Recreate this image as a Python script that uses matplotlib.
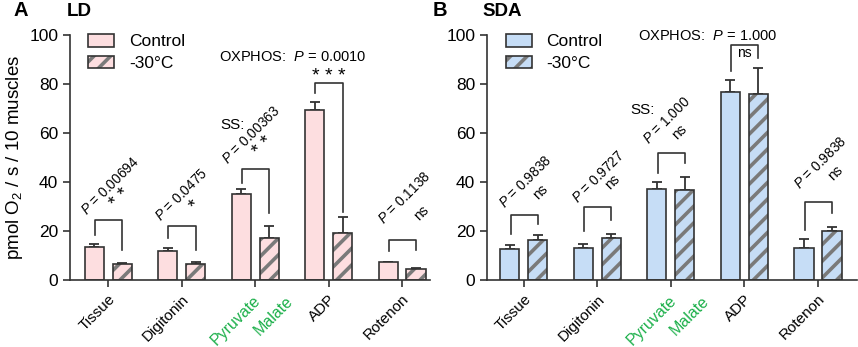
import numpy as np
import matplotlib
matplotlib.use('Agg')
import matplotlib.pyplot as plt
from matplotlib.patches import Patch
from matplotlib import transforms

plt.rcParams['font.family'] = ['Liberation Sans', 'DejaVu Sans']
plt.rcParams['mathtext.fontset'] = 'custom'
plt.rcParams['mathtext.rm'] = 'Liberation Sans'
plt.rcParams['mathtext.it'] = 'Liberation Sans:italic'
plt.rcParams['hatch.linewidth'] = 2.6

categories = ['Tissue', 'Digitonin', 'Pyruvate Malate', 'ADP', 'Rotenon']

# LD muscle
ld_control = [13.3, 11.7, 35.1, 69.6, 7.2]
ld_control_err = [1.6, 1.5, 2.0, 3.0, 0.2]
ld_cold = [6.4, 6.4, 17.1, 19.0, 4.4]
ld_cold_err = [0.7, 1.0, 4.9, 6.9, 0.7]
ld_pvals = ['0.00694', '0.0475', '0.00363', '0.0010', '0.1138']
ld_sig = ['**', '*', '**', '***', 'ns']
# bracket top, left leg end, right leg end
ld_brackets = [(24.7, 18.4, 12.2), (22.0, 17.0, 12.2), (45.3, 39.5, 27.2),
               (80.5, 76.5, 27.9), (16.3, 12.0, 12.2)]

# SDA muscle
sda_control = [12.8, 13.2, 37.2, 76.7, 13.2]
sda_control_err = [1.5, 1.5, 2.8, 5.0, 3.7]
sda_cold = [16.2, 17.1, 36.7, 75.8, 20.1]
sda_cold_err = [2.3, 1.8, 5.3, 10.9, 1.7]
sda_pvals = ['0.9838', '0.9727', '1.000', '1.000', '0.9838']
sda_sig = ['ns', 'ns', 'ns', 'ns', 'ns']
sda_brackets = [(26.7, 18.8, 23.0), (29.8, 20.0, 24.7), (52.0, 43.6, 47.8),
                (96.0, 85.4, 90.6), (32.0, 20.4, 27.3)]

# label placement (offset from group centre, y) for the rotated p-value and mark
ld_text_pos = [((0.03, 38.4), (0.16, 33.4)), ((0.0, 34.7), (0.18, 30.5)),
               ((-0.05, 59.2), (0.11, 54.6)), ((-0.49, 91.0), (0.0, 83.2)),
               ((0.04, 33.4), (0.26, 27.3))]
sda_text_pos = [((0.03, 40.0), (0.22, 36.0)), ((0.02, 42.0), (0.20, 40.0)),
                ((-0.05, 65.3), (0.12, 60.4)), ((-0.50, 99.6), (0.0, 92.6)),
                ((0.04, 47.7), (0.23, 43.7))]
ld_ss_pos = (-0.31, 63.3)
sda_ss_pos = (-0.38, 69.4)

dark = '#333333'
hatch_gray = '#7a7a7a'
green = '#1DB04B'


def draw_panel(ax, control, cerr, cold, werr, color, pvals, sig, brackets,
               text_pos, ss_pos, xlim):
    x = np.arange(len(categories))
    w = 0.26
    off = 0.19
    ax.bar(x - off, control, w, color=color, edgecolor=dark, linewidth=1.2, zorder=2)
    ax.bar(x + off, cold, w, color=color, edgecolor=hatch_gray, linewidth=0,
           hatch='//', zorder=2)
    ax.bar(x + off, cold, w, fill=False, edgecolor=dark, linewidth=1.2, zorder=3)
    ax.errorbar(x - off, control, yerr=[np.zeros(len(x)), cerr], fmt='none',
                ecolor=dark, elinewidth=1.3, capsize=3.5, capthick=1.3, zorder=1)
    ax.errorbar(x + off, cold, yerr=[np.zeros(len(x)), werr], fmt='none',
                ecolor=dark, elinewidth=1.3, capsize=3.5, capthick=1.3, zorder=1)

    for i, (top, lend, rend) in enumerate(brackets):
        ax.plot([i - 0.18, i - 0.18, i + 0.19, i + 0.19], [lend, top, top, rend],
                color=dark, lw=1.2, clip_on=False)
        (px, py), (sx, sy) = text_pos[i]
        mark = ' '.join(sig[i]) if '*' in sig[i] else sig[i]
        fs = 14 if '*' in sig[i] else 10
        if categories[i] == 'ADP':
            ax.text(i + px, py, 'OXPHOS:  $P$ = ' + pvals[i], ha='center',
                    va='center', fontsize=10.5, clip_on=False)
            ax.text(i + sx, sy, mark, ha='center', va='center', fontsize=fs)
        else:
            ax.text(i + px, py, '$P$ = ' + pvals[i], rotation=45, ha='center',
                    va='center', fontsize=9.8, rotation_mode='anchor')
            ax.text(i + sx, sy, mark, rotation=45, ha='center', va='center',
                    fontsize=fs, rotation_mode='anchor')
    ax.text(2 + ss_pos[0], ss_pos[1], 'SS:', ha='center', va='center', fontsize=11)

    ax.set_xlim(*xlim)
    ax.set_ylim(0, 100)
    ax.set_yticks(np.arange(0, 101, 20))
    ax.set_xticks(x)
    labels = [c if c != 'Pyruvate Malate' else '' for c in categories]
    ax.set_xticklabels(labels, rotation=45, ha='right', va='top',
                       rotation_mode='anchor', fontsize=11)
    for lab in ax.get_xticklabels():
        lab.set_transform(lab.get_transform() +
                          transforms.ScaledTranslation(2 / 100, -4 / 100,
                                                       ax.figure.dpi_scale_trans))
    # green substrate labels
    for word, dx in (('Pyruvate', -2), ('Malate', 30)):
        tr = transforms.blended_transform_factory(ax.transData, ax.transAxes) + \
            transforms.ScaledTranslation(dx / 100, -13 / 100, ax.figure.dpi_scale_trans)
        ax.text(2, 0, word, transform=tr, rotation=45, ha='right', va='top',
                rotation_mode='anchor', fontsize=11.5, color=green)

    ax.tick_params(axis='y', labelsize=12.5, length=5, width=1.2, color=dark)
    ax.tick_params(axis='x', length=5, width=1.2, color=dark)
    for s in ('top', 'right'):
        ax.spines[s].set_visible(False)
    for s in ('left', 'bottom'):
        ax.spines[s].set_linewidth(1.2)
        ax.spines[s].set_color(dark)

    handles = [Patch(facecolor=color, edgecolor=dark, linewidth=1.2),
               (Patch(facecolor=color, edgecolor=hatch_gray, linewidth=0, hatch='//'),
                Patch(fill=False, edgecolor=dark, linewidth=1.2))]
    ax.legend(handles, ['Control', '-30\u00b0C'], loc='upper left',
              bbox_to_anchor=(0.05, 1.004), frameon=False, fontsize=12.5,
              handlelength=1.5, handleheight=0.75, handletextpad=0.85,
              labelspacing=0.35, borderpad=0, borderaxespad=0)


fig = plt.figure(figsize=(8.58, 3.47), dpi=100)
ax1 = fig.add_axes([70 / 858, 0.193, 360 / 858, 0.706])
ax2 = fig.add_axes([487 / 858, 0.193, 370 / 858, 0.706])

draw_panel(ax1, ld_control, ld_control_err, ld_cold, ld_cold_err, '#FDDEE0',
           ld_pvals, ld_sig, ld_brackets, ld_text_pos, ld_ss_pos, (-0.52, 4.38))
draw_panel(ax2, sda_control, sda_control_err, sda_cold, sda_cold_err, '#C6DDF6',
           sda_pvals, sda_sig, sda_brackets, sda_text_pos, sda_ss_pos, (-0.5, 4.53))

ax1.set_ylabel('pmol O$_2$ / s / 10 muscles', fontsize=13.5, labelpad=3)

fig.text(13 / 858, 1 - 11 / 347, 'A', fontsize=14.5, fontweight='bold', va='center')
fig.text(67 / 858, 1 - 11 / 347, 'LD', fontsize=13.5, fontweight='bold', va='center')
fig.text(433 / 858, 1 - 11 / 347, 'B', fontsize=14.5, fontweight='bold', va='center')
fig.text(482 / 858, 1 - 11 / 347, 'SDA', fontsize=13.5, fontweight='bold', va='center')

fig.savefig('out.png', dpi=100)
